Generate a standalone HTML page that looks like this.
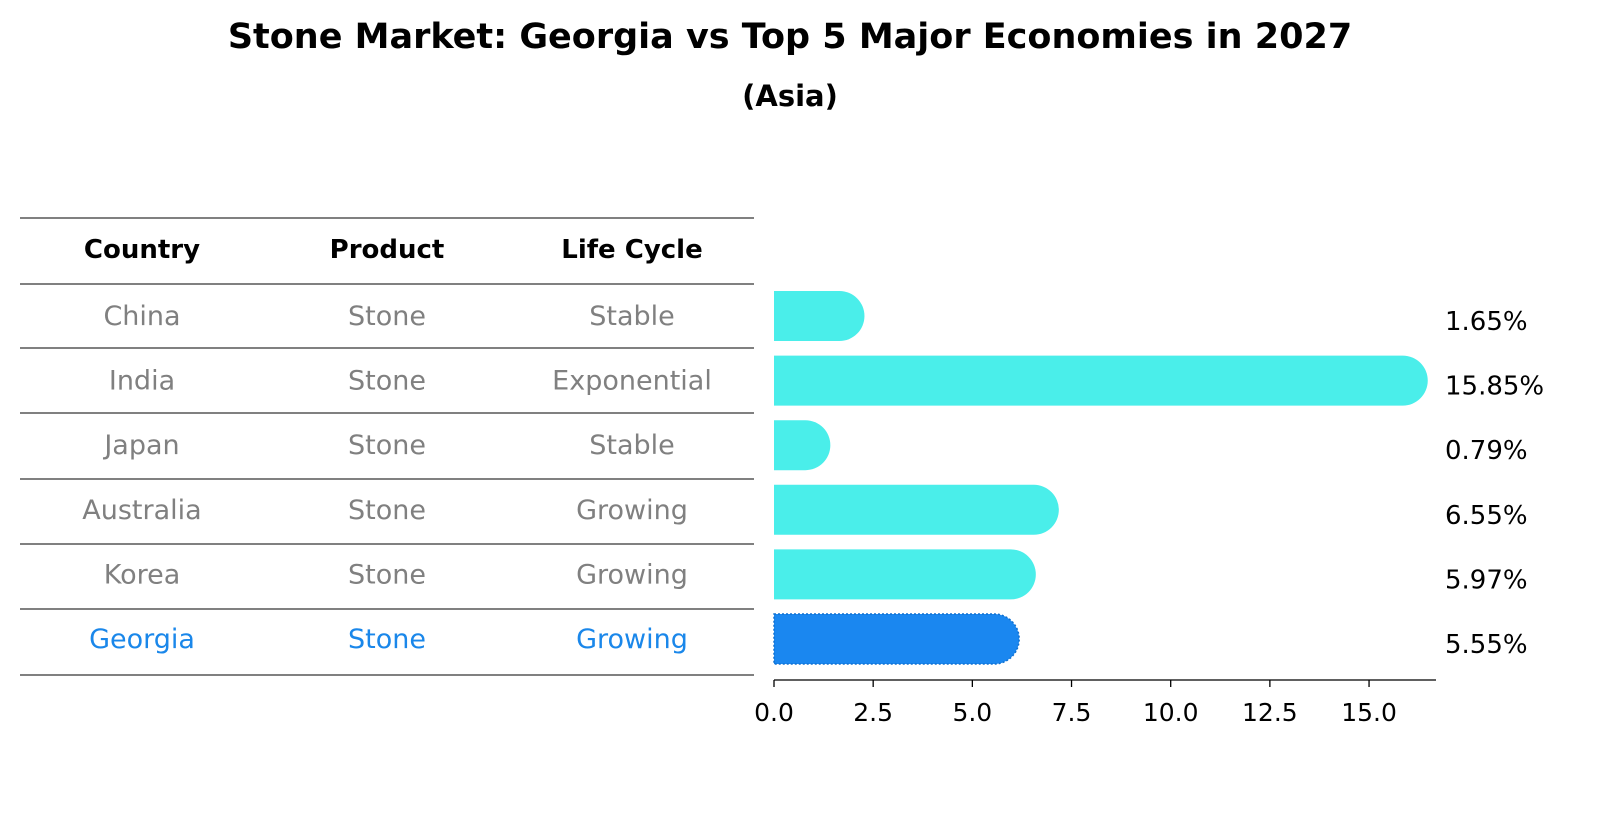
<!DOCTYPE html>
<html><head><meta charset="utf-8"><style>
html,body{margin:0;padding:0;background:#fff;overflow:hidden;width:1604px;height:823px}
svg{display:block}
svg text{font-family:"DejaVu Sans","Liberation Sans",sans-serif}
</style></head><body>
<svg id="c" width="1604" height="823" viewBox="0 0 1604 823">
<text x="790" y="48" text-anchor="middle" font-size="35" font-weight="bold">Stone Market: Georgia vs Top 5 Major Economies in 2027</text>
<text x="790" y="106" text-anchor="middle" font-size="29" font-weight="bold">(Asia)</text>
<g id="tbl"></g>
<g id="bars"></g>
</svg>
<script>
const countries=["China","India","Japan","Australia","Korea","Georgia"];
const products=["Stone","Stone","Stone","Stone","Stone","Stone"];
const lifecycles=["Stable","Exponential","Stable","Growing","Growing","Growing"];
const values=[1.65,15.85,0.79,6.55,5.97,5.55];
const ticks=[0,2.5,5,7.5,10,12.5,15];
const NS="http://www.w3.org/2000/svg";
function mk(t,a,p){const e=document.createElementNS(NS,t);for(const k in a)e.setAttribute(k,a[k]);p.appendChild(e);return e;}
const tbl=document.getElementById('tbl'),bars=document.getElementById('bars');
const x0=774,pxu=39.67;
const xs=v=>x0+v*pxu;
const rowY=i=>316+i*64.6;
const lines=[218,284,348,413,479,544,609,675];
lines.forEach((y,i)=>{const l=mk('line',{x1:20,x2:754,y1:y,y2:y,stroke:'#000','stroke-width':1},tbl);

});
const colX=[142,387,632];
["Country","Product","Life Cycle"].forEach((h,j)=>{const t=mk('text',{x:colX[j],y:258,'text-anchor':'middle','font-size':26,'font-weight':'bold'},tbl);t.textContent=h;

});
countries.forEach((c,i)=>{
 const g=i===5;const col=g?'#1a87ea':'#808080';
 [c,products[i],lifecycles[i]].forEach((v,j)=>{const t=mk('text',{x:colX[j],y:rowY(i)+9,'text-anchor':'middle','font-size':27,fill:col},tbl);t.textContent=v;
 
 });
 const h=50,r=25,y=rowY(i)-h/2,xe=xs(values[i]);
 const p=mk('path',{d:`M${x0},${y} H${xe} A${r},${r} 0 0 1 ${xe},${y+h} H${x0} Z`,fill:g?'#1a87f0':'#4aeeea',stroke:g?'#1070d0':'none','stroke-width':g?1.5:0,'stroke-dasharray':g?'2,2':''},bars);
 
 
 const t=mk('text',{x:1445,y:rowY(i)+14,'font-size':26},bars);t.textContent=values[i].toFixed(2)+'%';
 
 
});
const ax=mk('line',{x1:x0,x2:1436,y1:680,y2:680,stroke:'#000','stroke-width':1.3},bars);


ticks.forEach(v=>{const l=mk('line',{x1:xs(v),x2:xs(v),y1:680,y2:687,stroke:'#000','stroke-width':1.3},bars);


const t=mk('text',{x:xs(v),y:721,'text-anchor':'middle','font-size':25},bars);t.textContent=v.toFixed(1);

});
</script>
</body></html>
